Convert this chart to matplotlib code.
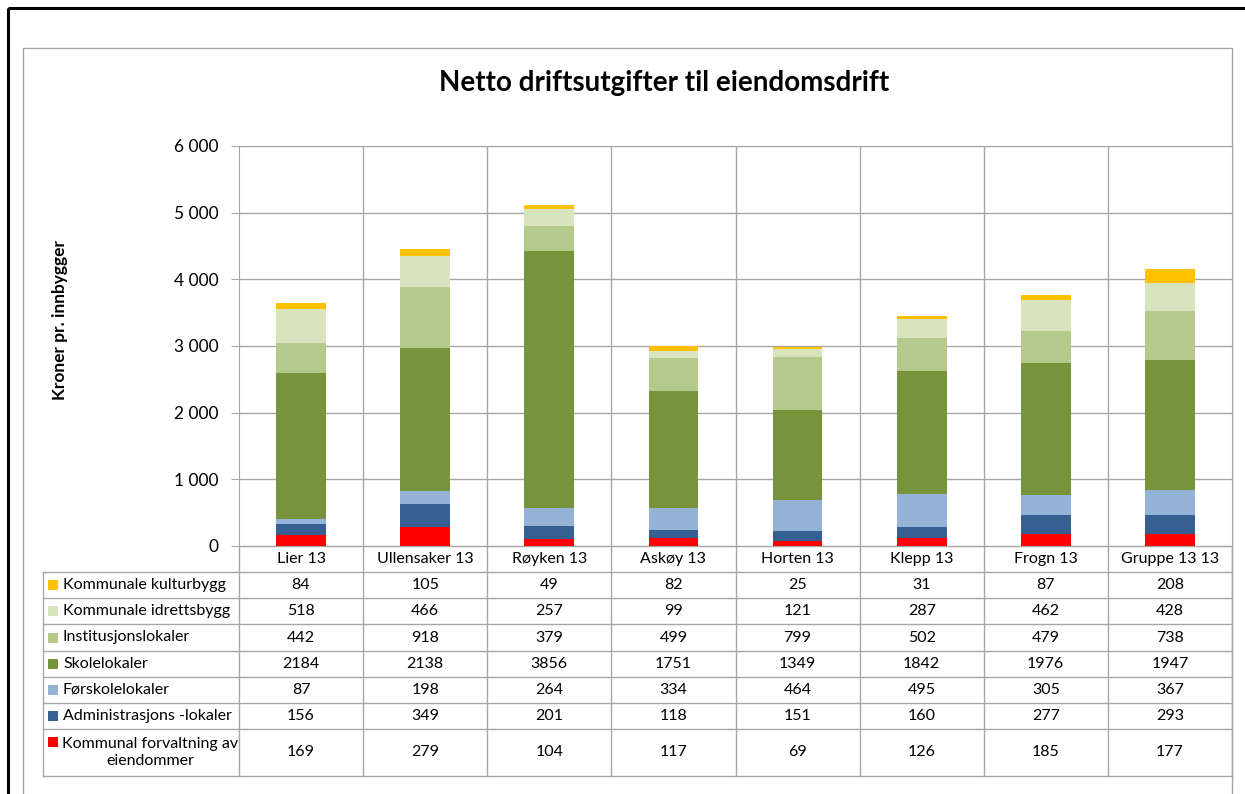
import numpy as np
import matplotlib.pyplot as plt
from matplotlib.patches import Rectangle

plt.rcParams['font.family'] = ['Lato', 'DejaVu Sans']

categories = ["Lier 13", "Ullensaker 13", "Røyken 13", "Askøy 13",
              "Horten 13", "Klepp 13", "Frogn 13", "Gruppe 13 13"]

# bottom to top in the stack
series_names = ["Kommunal forvaltning av\neiendommer",
                "Administrasjons -lokaler",
                "Førskolelokaler",
                "Skolelokaler",
                "Institusjonslokaler",
                "Kommunale idrettsbygg",
                "Kommunale kulturbygg"]
forvaltning = [169, 279, 104, 117, 69, 126, 185, 177]
administrasjon = [156, 349, 201, 118, 151, 160, 277, 293]
forskole = [87, 198, 264, 334, 464, 495, 305, 367]
skole = [2184, 2138, 3856, 1751, 1349, 1842, 1976, 1947]
institusjon = [442, 918, 379, 499, 799, 502, 479, 738]
idrett = [518, 466, 257, 99, 121, 287, 462, 428]
kultur = [84, 105, 49, 82, 25, 31, 87, 208]
series_vals = [forvaltning, administrasjon, forskole, skole, institusjon, idrett, kultur]
colors = ["#FF0000", "#376092", "#95B3D7", "#77933C", "#B3CA8C", "#D8E4BE", "#FFC000"]

yticks = [0, 1000, 2000, 3000, 4000, 5000, 6000]

W, H = 1245, 794
fig = plt.figure(figsize=(W / 100, H / 100), dpi=100)

# overlay axes in pixel coordinates for frames and the data table
bg = fig.add_axes([0, 0, 1, 1])
bg.set_xlim(0, W)
bg.set_ylim(H, 0)
bg.axis('off')

# outer black frame of the page and the grey chart frame
bg.add_patch(Rectangle((8, 8), W + 20, H + 20, fill=False, lw=2.2, ec='black'))
bg.add_patch(Rectangle((23, 48), 1232 - 23, H + 20, fill=False, lw=1.0, ec='#a6a6a6'))

# ---- chart ----
px0, px1, py0, py1 = 239, 1232, 146, 546
ax = fig.add_axes([px0 / W, 1 - py1 / H, (px1 - px0) / W, (py1 - py0) / H])
x = np.arange(len(categories)) + 0.5
bottom = np.zeros(len(categories))
for vals, c in zip(series_vals, colors):
    ax.bar(x, vals, width=0.4, bottom=bottom, color=c, zorder=3)
    bottom += np.array(vals)

ax.set_xlim(0, len(categories))
ax.set_ylim(0, 6000)
ax.set_yticks(yticks)
ax.set_yticklabels([f"{v:,}".replace(",", " ") for v in yticks], fontsize=12.5)
ax.set_xticks([])
ax.grid(axis='y', color='#a6a6a6', lw=1.0, zorder=0)
for b in range(1, len(categories)):
    ax.axvline(b, color='#a6a6a6', lw=1.0, zorder=0)
for s in ax.spines.values():
    s.set_color('#a6a6a6')
ax.tick_params(axis='y', length=6, color='#a6a6a6', pad=9)

fig.text(664 / W, 1 - 83 / H, "Netto driftsutgifter til eiendomsdrift",
         ha='center', va='center', fontsize=20, fontweight='bold')
fig.text(60 / W, 1 - 320 / H, "Kroner pr. innbygger", rotation=90,
         ha='center', va='center', fontsize=12.5, fontweight='bold')

# ---- data table below the chart ----
grid_c = '#a6a6a6'
col_w = (px1 - px0) / len(categories)
row_edges = [546, 572, 598, 624, 651, 677, 703, 729, 776]
tab_left = 43

# header row with category names
for i, name in enumerate(categories):
    bg.text(px0 + (i + 0.5) * col_w, (row_edges[0] + row_edges[1]) / 2, name,
            ha='center', va='center', fontsize=11.5)

# data rows: top row is the top of the stack
order = list(range(len(series_names)))[::-1]
for r, si in enumerate(order):
    y0, y1 = row_edges[r + 1], row_edges[r + 2]
    yc = (y0 + y1) / 2
    if "\n" in series_names[si]:
        bg.add_patch(Rectangle((48, y0 + 8), 10, 10, color=colors[si], lw=0))
        bg.text(150, yc, series_names[si], ha='center', va='center',
                fontsize=11.5, linespacing=1.35)
    else:
        bg.add_patch(Rectangle((48, yc - 5), 10, 10, color=colors[si], lw=0))
        bg.text(63, yc, series_names[si], ha='left', va='center', fontsize=11.5)
    for i, v in enumerate(series_vals[si]):
        bg.text(px0 + (i + 0.5) * col_w, yc, str(v), ha='center', va='center', fontsize=11.5)

# table lines
for k, ye in enumerate(row_edges):
    left = px0 if k == 0 else tab_left
    bg.plot([left, px1], [ye, ye], color=grid_c, lw=1.0)
bg.plot([tab_left, tab_left], [row_edges[1], row_edges[-1]], color=grid_c, lw=1.0)
for i in range(len(categories) + 1):
    bg.plot([px0 + i * col_w] * 2, [row_edges[0], row_edges[-1]], color=grid_c, lw=1.0)

fig.savefig("out.png", dpi=100)
